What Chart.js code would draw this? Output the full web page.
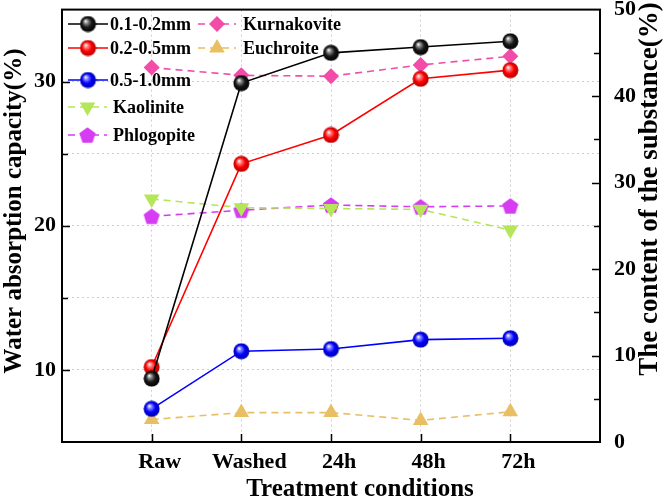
<!DOCTYPE html>
<html>
<head>
<meta charset="utf-8">
<script src="https://cdn.jsdelivr.net/npm/chart.js@4.4.0/dist/chart.umd.min.js"></script>
<style>
  html, body { margin: 0; padding: 0; background: #fff; }
</style>
</head>
<body>
<canvas id="c" width="664" height="499"></canvas>
<script>
// categories and values
var categories = ['Raw', 'Washed', '24h', '48h', '72h'];
var size01to02 = [9.4, 29.9, 32.0, 32.4, 32.8];
var size02to05 = [10.2, 24.3, 26.3, 30.2, 30.8];
var size05to10 = [7.3, 11.3, 11.45, 12.1, 12.2];
var kurnakovite = [43.3, 42.4, 42.3, 43.6, 44.6];
var euchroite = [2.6, 3.4, 3.4, 2.5, 3.5];
var kaolinite = [28.1, 27.1, 27.0, 26.9, 24.5];
var phlogopite = [26.1, 26.8, 27.4, 27.2, 27.3];
var leftTicks = [10, 15, 20, 25, 30];
var rightTicks = [0, 10, 20, 30, 40, 50];

var FONT = '"Liberation Serif", "Times New Roman", serif';

// shaded ball marker
function sphere(light, color, dark) {
    var c = document.createElement('canvas');
    c.width = 17; c.height = 17;
    var g = c.getContext('2d');
    var grad = g.createRadialGradient(6, 5.5, 0.3, 8.5, 8.5, 8.5);
    grad.addColorStop(0, '#ffffff');
    grad.addColorStop(0.2, light);
    grad.addColorStop(0.55, color);
    grad.addColorStop(1, dark);
    g.fillStyle = grad;
    g.beginPath();
    g.arc(8.5, 8.5, 8, 0, Math.PI * 2);
    g.fill();
    return c;
}

function pentagon(color) {
    var c = document.createElement('canvas');
    c.width = 18; c.height = 18;
    var g = c.getContext('2d');
    g.fillStyle = color;
    g.beginPath();
    for (var i = 0; i < 5; i++) {
        var a = -Math.PI / 2 + i * 2 * Math.PI / 5;
        var px = 9 + 8.5 * Math.cos(a), py = 9.8 + 8.5 * Math.sin(a);
        if (i === 0) g.moveTo(px, py); else g.lineTo(px, py);
    }
    g.closePath();
    g.fill();
    return c;
}

var blackBall = sphere('#909090', '#181818', '#000000');
var redBall = sphere('#ff8a8a', '#ff0000', '#a80000');
var blueBall = sphere('#8a8aff', '#0000ff', '#0000a0');
var penta = pentagon('#d63cf2');

function pts(arr) {
    return arr.map(function(v, i) { return { x: i, y: v }; });
}

var datasets = [
    { label: '0.1-0.2mm', data: pts(size01to02), yAxisID: 'y', borderColor: '#000000', borderWidth: 1.6,
      pointStyle: blackBall, pointRadius: 8 },
    { label: '0.2-0.5mm', data: pts(size02to05), yAxisID: 'y', borderColor: '#ff0000', borderWidth: 1.6,
      pointStyle: redBall, pointRadius: 8 },
    { label: '0.5-1.0mm', data: pts(size05to10), yAxisID: 'y', borderColor: '#0000ff', borderWidth: 1.6,
      pointStyle: blueBall, pointRadius: 8 },
    { label: 'Kaolinite', data: pts(kaolinite), yAxisID: 'y2', borderColor: '#b5e65a', borderWidth: 1.6,
      borderDash: [7, 5], pointStyle: 'triangle', pointRotation: 180, pointRadius: 9,
      pointBackgroundColor: '#b5e65a', pointBorderColor: '#b5e65a', pointBorderWidth: 0 },
    { label: 'Phlogopite', data: pts(phlogopite), yAxisID: 'y2', borderColor: '#d63cf2', borderWidth: 1.6,
      borderDash: [7, 5], pointStyle: penta, pointRadius: 8 },
    { label: 'Kurnakovite', data: pts(kurnakovite), yAxisID: 'y2', borderColor: '#f24ba8', borderWidth: 1.6,
      borderDash: [7, 5], pointStyle: 'rectRot', pointRadius: 8,
      pointBackgroundColor: '#f24ba8', pointBorderColor: '#f24ba8', pointBorderWidth: 0 },
    { label: 'Euchroite', data: pts(euchroite), yAxisID: 'y2', borderColor: '#e8bf63', borderWidth: 1.6,
      borderDash: [7, 5], pointStyle: 'triangle', pointRadius: 9,
      pointBackgroundColor: '#e8bf63', pointBorderColor: '#e8bf63', pointBorderWidth: 0 }
];

// legend slots: [dataset index, line x0, line x1, text x, y]
var legendSlots = [
    [0, 68, 108, 110, 24], [1, 68, 108, 110, 48], [2, 68, 108, 110, 80],
    [3, 68, 107, 113, 107], [4, 68, 107, 113, 135],
    [5, 198, 236, 243, 24], [6, 198, 236, 243, 48]
];

var decor = {
    id: 'decor',
    afterDraw: function(chart) {
        var ctx = chart.ctx, a = chart.chartArea;
        var sx = chart.scales.x, sy = chart.scales.y, sy2 = chart.scales.y2;
        ctx.save();
        ctx.strokeStyle = '#000';
        ctx.lineWidth = 1.5;
        ctx.beginPath();
        // inward ticks
        categories.forEach(function(c, i) {
            var px = Math.round(sx.getPixelForValue(i)) + 0.5;
            ctx.moveTo(px, a.bottom); ctx.lineTo(px, a.bottom - 8);
        });
        leftTicks.forEach(function(v) {
            var py = Math.round(sy.getPixelForValue(v)) + 0.5;
            ctx.moveTo(a.left, py); ctx.lineTo(a.left + (v % 10 === 0 ? 8 : 6), py);
        });
        for (var v = 5; v < 50; v += 5) {
            var py = Math.round(sy2.getPixelForValue(v)) + 0.5;
            ctx.moveTo(a.right, py); ctx.lineTo(a.right - (v % 10 === 0 ? 8 : 6), py);
        }
        ctx.stroke();
        // frame
        ctx.lineWidth = 2;
        ctx.strokeRect(a.left, a.top, a.right - a.left, a.bottom - a.top);

        // axis titles
        ctx.fillStyle = '#000';
        ctx.textAlign = 'center';
        ctx.textBaseline = 'middle';
        ctx.font = 'bold 25px ' + FONT;
        ctx.save();
        ctx.translate(15, 211);
        ctx.rotate(-Math.PI / 2);
        ctx.fillText('Water absorption capacity(%)', 0, 0);
        ctx.restore();
        ctx.font = 'bold 27px ' + FONT;
        ctx.save();
        ctx.translate(650, 189);
        ctx.rotate(-Math.PI / 2);
        ctx.fillText('The content of the substance(%)', 0, 0);
        ctx.restore();
        ctx.font = 'bold 25px ' + FONT;
        ctx.textBaseline = 'alphabetic';
        ctx.fillText('Treatment conditions', 360, 496);

        // legend
        ctx.font = 'bold 18px ' + FONT;
        ctx.textAlign = 'left';
        ctx.textBaseline = 'middle';
        legendSlots.forEach(function(s) {
            var ds = chart.data.datasets[s[0]];
            ctx.save();
            ctx.strokeStyle = ds.borderColor;
            ctx.lineWidth = ds.borderWidth;
            ctx.setLineDash(ds.borderDash || []);
            ctx.beginPath();
            ctx.moveTo(s[1], s[4]); ctx.lineTo(s[2], s[4]);
            ctx.stroke();
            ctx.restore();
            ctx.save();
            ctx.fillStyle = ds.pointBackgroundColor || ds.borderColor;
            ctx.strokeStyle = ds.pointBorderColor || ds.borderColor;
            Chart.helpers.drawPoint(ctx, {
                pointStyle: ds.pointStyle, radius: ds.pointRadius,
                rotation: ds.pointRotation || 0, borderWidth: 0
            }, (s[1] + s[2]) / 2, s[4]);
            ctx.restore();
            ctx.fillStyle = '#000';
            ctx.fillText(ds.label, s[3], s[4] + 1);
        });
        ctx.restore();
    }
};

var gridColor = '#cfcfcf';

// keep the plot box where the reference has it: no extra room for edge labels
function noEdgePad(s) {
    s.paddingTop = 0; s.paddingBottom = 0;
    s.paddingLeft = 0; s.paddingRight = 0;
}

new Chart(document.getElementById('c').getContext('2d'), {
    type: 'line',
    data: { datasets: datasets },
    options: {
        responsive: false,
        animation: false,
        layout: { padding: { top: 8, left: 0, right: 0, bottom: 0 } },
        plugins: { legend: { display: false }, tooltip: { enabled: false } },
        scales: {
            x: {
                type: 'linear', min: -1, max: 5,
                afterBuildTicks: function(s) { s.ticks = categories.map(function(c, i) { return { value: i }; }); },
                afterFit: function(s) { s.height = 57; noEdgePad(s); },
                grid: { color: gridColor, drawTicks: false },
                border: { display: false, dash: [2, 3] },
                ticks: {
                    color: '#000', padding: 7, labelOffset: 8, maxRotation: 0, autoSkip: false,
                    font: { family: FONT, size: 22, weight: 'bold' },
                    callback: function(v) { return categories[v] !== undefined ? categories[v] : ''; }
                }
            },
            y: {
                position: 'left', min: 5, max: 35,
                afterBuildTicks: function(s) { s.ticks = leftTicks.map(function(v) { return { value: v }; }); },
                afterFit: function(s) { s.width = 62; noEdgePad(s); },
                grid: { color: gridColor, drawTicks: false },
                border: { display: false, dash: [2, 3] },
                ticks: {
                    color: '#000', padding: 6,
                    font: { family: FONT, size: 22, weight: 'bold' },
                    callback: function(v) { return v % 10 === 0 ? v : ''; }
                }
            },
            y2: {
                position: 'right', min: 0, max: 50,
                afterBuildTicks: function(s) { s.ticks = rightTicks.map(function(v) { return { value: v }; }); },
                afterFit: function(s) { s.width = 64; noEdgePad(s); },
                grid: { display: false, drawTicks: false },
                border: { display: false },
                ticks: {
                    color: '#000', padding: 14,
                    font: { family: FONT, size: 22, weight: 'bold' }
                }
            }
        }
    },
    plugins: [decor]
});
</script>
</body>
</html>
